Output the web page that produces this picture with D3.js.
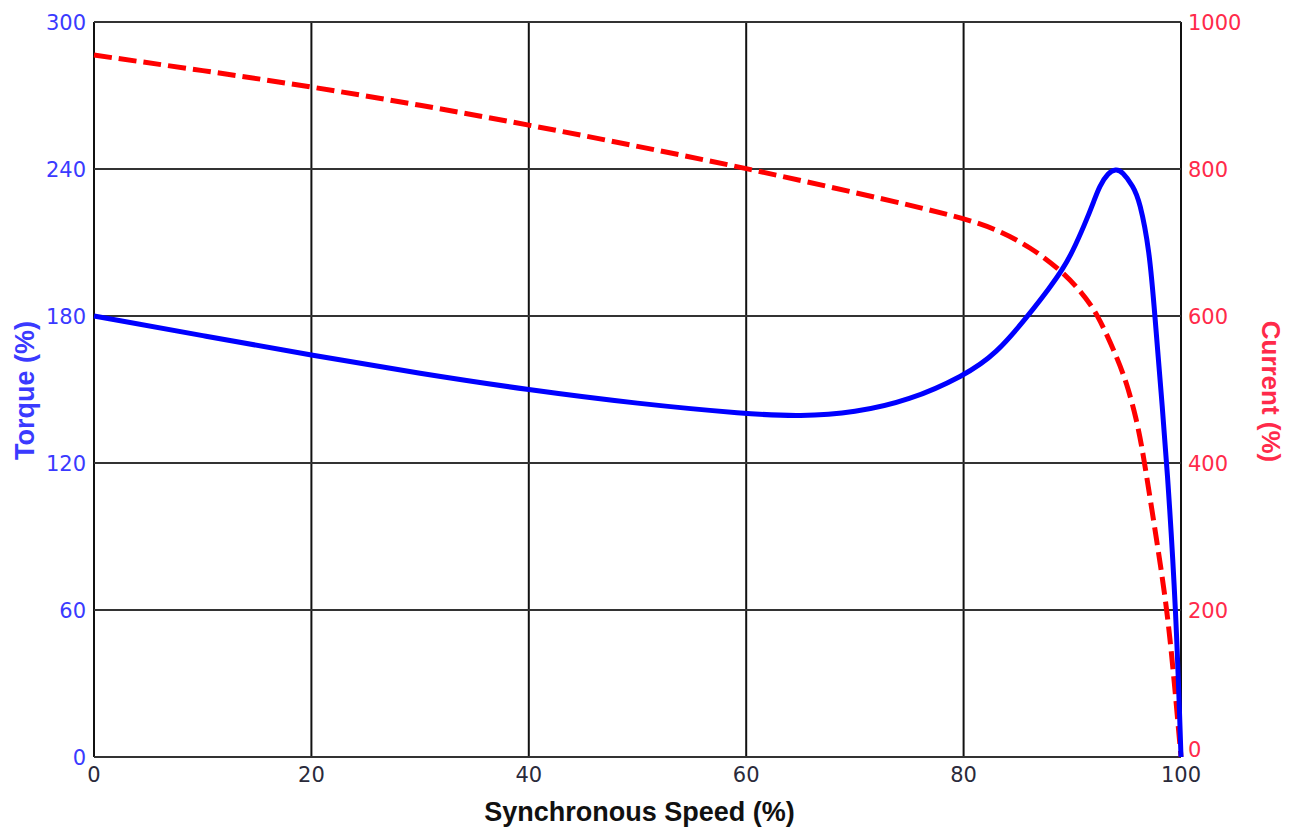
<!DOCTYPE html>
<html>
<head>
<meta charset="utf-8">
<script src="https://cdn.jsdelivr.net/npm/d3@7"></script>
<style>
  body { margin: 0; background: #fff; }
  svg { display: block; }
</style>
</head>
<body>
<svg id="chart" width="1294" height="827"></svg>
<script>
// speed (% of synchronous) vs torque (%)
const torqueSpeed = [0, 10, 20, 30, 40, 50, 60, 65, 70, 75, 80, 83, 86, 88, 89.1, 90, 91.2, 92, 92.5, 93.3, 94, 94.6, 95.6, 96.2, 97.1, 97.6, 98.2, 98.7, 99.55, 100];
const torqueVals  = [180, 172, 164, 156.5, 149.8, 144.2, 140, 139, 140.5, 145.5, 155.5, 164.5, 180.5, 192, 199, 206, 218, 227, 233, 238.5, 240, 239, 233, 227, 207, 180, 147, 120, 60, 0];

// speed vs current (%)
const currentSpeed = [0, 10, 20, 30, 40, 50, 60, 70, 80, 83.3, 86.1, 88.9, 90.7, 92.3, 94.1, 95, 95.9, 96.5, 97.6, 98.7, 99.4, 100];
const currentVals  = [955, 934, 912, 887, 860, 831, 801, 768, 734, 716, 694, 663, 635, 604, 544, 509, 460, 415, 310, 205, 100, 0];

const xTicks = [0, 20, 40, 60, 80, 100];
const torqueTicks = [0, 60, 120, 180, 240, 300];
const currentTicks = [0, 200, 400, 600, 800, 1000];

const svg = d3.select("#chart");
const margin = {left: 94, right: 113, top: 22, bottom: 70};
const W = 1294, H = 827;
const innerW = W - margin.left - margin.right;
const innerH = H - margin.top - margin.bottom;

const x = d3.scaleLinear().domain([0, 100]).range([0, innerW]);
const yT = d3.scaleLinear().domain([0, 300]).range([innerH, 0]);
const yC = d3.scaleLinear().domain([0, 1000]).range([innerH, 0]);

const g = svg.append("g").attr("transform", `translate(${margin.left},${margin.top})`);

// grid
g.selectAll(".vgrid").data(xTicks).enter().append("line")
  .attr("x1", d => x(d)).attr("x2", d => x(d))
  .attr("y1", 0).attr("y2", innerH)
  .style("stroke", "#111").style("stroke-width", 2);
g.selectAll(".hgrid").data(torqueTicks).enter().append("line")
  .attr("x1", 0).attr("x2", innerW)
  .attr("y1", d => yT(d)).attr("y2", d => yT(d))
  .style("stroke", "#333").style("stroke-width", 2);

const tickFont = "'DejaVu Sans', Verdana, sans-serif";

// left ticks
g.selectAll(".tl").data(torqueTicks).enter().append("text")
  .attr("x", -8).attr("y", d => yT(d)).attr("dy", "0.36em")
  .attr("text-anchor", "end")
  .style("font-family", tickFont).style("font-size", "21px")
  .style("fill", "#3a3aff")
  .text(d => d);

// right ticks
g.selectAll(".tr").data(currentTicks).enter().append("text")
  .attr("x", innerW + 7).attr("y", d => yC(d)).attr("dy", d => d === 0 ? "0" : "0.36em")
  .style("font-family", tickFont).style("font-size", "21px")
  .style("fill", "#ff2a4a")
  .text(d => d);

// bottom ticks
g.selectAll(".tb").data(xTicks).enter().append("text")
  .attr("x", d => x(d)).attr("y", innerH + 25)
  .attr("text-anchor", "middle")
  .style("font-family", tickFont).style("font-size", "21px")
  .style("fill", "#2a2a3a")
  .text(d => d);

// curves (b-spline to smooth out reading noise)
const torqueLine = d3.line()
  .x((d, i) => x(torqueSpeed[i]))
  .y(d => yT(d))
  .curve(d3.curveBasis);
const currentLine = d3.line()
  .x((d, i) => x(currentSpeed[i]))
  .y(d => yC(d))
  .curve(d3.curveBasis);

g.append("path").datum(currentVals)
  .attr("d", currentLine)
  .style("fill", "none").style("stroke", "#ff0000")
  .style("stroke-width", 5).style("stroke-dasharray", "18,7");

g.append("path").datum(torqueVals)
  .attr("d", torqueLine)
  .style("fill", "none").style("stroke", "#0000ff")
  .style("stroke-width", 5);

// axis titles
const titleFont = "'Liberation Sans', Arial, sans-serif";
svg.append("text")
  .attr("x", margin.left + innerW / 2 + 2).attr("y", 821)
  .attr("text-anchor", "middle")
  .style("font-family", titleFont).style("font-size", "27px").style("font-weight", "bold")
  .style("fill", "#111")
  .text("Synchronous Speed (%)");

svg.append("text")
  .attr("transform", `translate(34, ${margin.top + innerH / 2 + 1}) rotate(-90)`)
  .attr("text-anchor", "middle")
  .style("font-family", titleFont).style("font-size", "27px").style("font-weight", "bold")
  .style("fill", "#3a3aff")
  .text("Torque (%)");

svg.append("text")
  .attr("transform", `translate(1262, ${margin.top + innerH / 2 + 2}) rotate(90)`)
  .attr("text-anchor", "middle")
  .style("font-family", titleFont).style("font-size", "26px").style("font-weight", "bold")
  .style("fill", "#ff2a4a")
  .text("Current (%)");
</script>
</body>
</html>
